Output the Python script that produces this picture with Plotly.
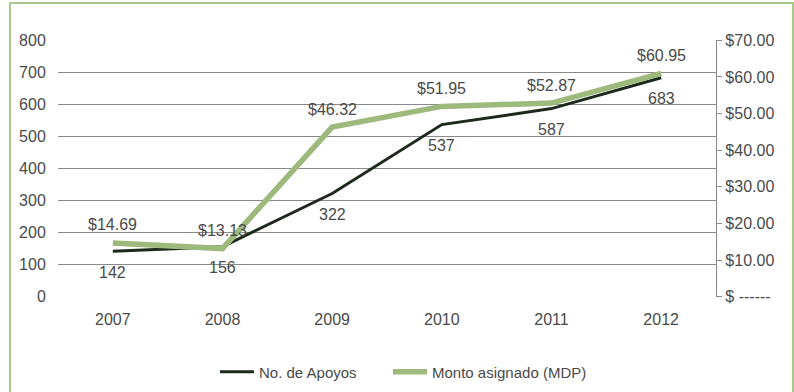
import plotly.graph_objects as go

years = ["2007", "2008", "2009", "2010", "2011", "2012"]
apoyos = [142, 156, 322, 537, 587, 683]
monto = [14.69, 13.13, 46.32, 51.95, 52.87, 60.95]
monto_labels = ["$14.69", "$13.13", "$46.32", "$51.95", "$52.87", "$60.95"]
left_ticks = [0, 100, 200, 300, 400, 500, 600, 700, 800]
right_ticks = [0, 10, 20, 30, 40, 50, 60, 70]
right_tick_text = ["$ ------", "$10.00", "$20.00", "$30.00", "$40.00", "$50.00", "$60.00", "$70.00"]

FONT = "Liberation Sans, Arial, sans-serif"
TXT = "#4a4a4a"
DARK = "#1c2a1c"
GREEN = "#9dba7c"
GRID = "#8a8a8a"
FS = 16

fig = go.Figure()

fig.add_trace(go.Scatter(
    x=years, y=apoyos, name="No. de Apoyos", mode="lines",
    line=dict(color=DARK, width=3), yaxis="y", legend="legend",
))
fig.add_trace(go.Scatter(
    x=years, y=monto, name="Monto asignado (MDP)", mode="lines",
    line=dict(color=GREEN, width=5.5), yaxis="y2", legend="legend2",
))

# value labels: counts below the dark line, amounts above the green line
# (x given as the category index on the category axis)
for i, v in enumerate(apoyos):
    fig.add_annotation(x=i, y=v, xref="x", yref="y", text=str(v),
                       showarrow=False, yshift=-21,
                       font=dict(family=FONT, size=FS, color=TXT))
for i, (v, t) in enumerate(zip(monto, monto_labels)):
    fig.add_annotation(x=i, y=v, xref="x", yref="y2", text=t,
                       showarrow=False, yshift=18,
                       font=dict(family=FONT, size=FS, color=TXT))

legend_common = dict(orientation="h", xanchor="left",
                     y=(297 - 372) / 257, yanchor="middle",
                     font=dict(family=FONT, size=15, color=TXT), itemwidth=34,
                     bgcolor="rgba(0,0,0,0)")

pad = 1.0
fig.update_layout(
    width=794, height=392,
    margin=dict(l=58, r=78, t=40, b=95, autoexpand=False),
    paper_bgcolor="white", plot_bgcolor="white",
    font=dict(family=FONT, size=FS, color=TXT),
    showlegend=True,
    legend=dict(x=(215 - 58) / 658, **legend_common),
    legend2=dict(x=(388 - 58) / 658, **legend_common),
    xaxis=dict(type="category", range=[-0.5, 5.5], showgrid=False, zeroline=False,
               showline=False, ticks="outside", ticklen=8, tickcolor="rgba(0,0,0,0)",
               tickfont=dict(family=FONT, size=FS, color=TXT)),
    yaxis=dict(range=[-pad, 800 + pad], tickvals=left_ticks, showgrid=True,
               gridcolor=GRID, gridwidth=1.3, zeroline=False, showline=False,
               ticks="outside", ticklen=8, tickcolor="rgba(0,0,0,0)",
               tickfont=dict(family=FONT, size=FS, color=TXT)),
    yaxis2=dict(range=[-pad * 70 / 800, 70 + pad * 70 / 800], overlaying="y", side="right",
                tickvals=right_ticks, ticktext=right_tick_text,
                showgrid=False, zeroline=False, showline=True,
                linecolor=GRID, linewidth=1.3,
                ticks="outside", ticklen=5, tickcolor=GRID,
                tickfont=dict(family=FONT, size=FS, color=TXT)),
)

# Green frame around the whole chart
fig.add_shape(type="rect", xref="paper", yref="paper",
              x0=(10 - 58) / 658, x1=(793 - 58) / 658,
              y0=(297 - 420) / 257, y1=(297 - 3) / 257,
              line=dict(color="#a9c98c", width=2), layer="below")

fig.write_html("out.html")
